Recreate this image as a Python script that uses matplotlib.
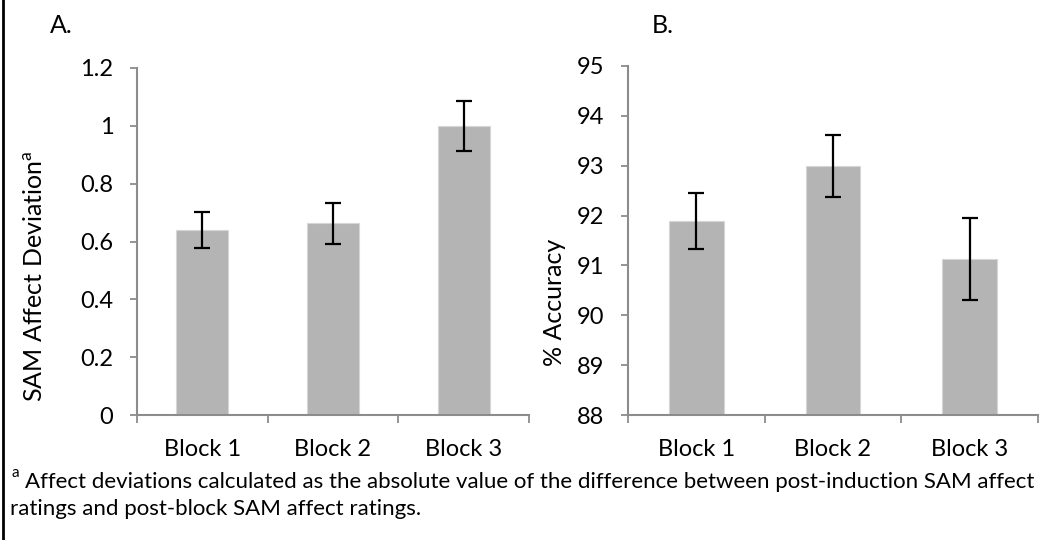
import numpy as np
import matplotlib
matplotlib.use("Agg")
import matplotlib.pyplot as plt
from matplotlib.lines import Line2D

plt.rcParams["font.family"] = ["Lato", "DejaVu Sans"]
plt.rcParams["mathtext.fontset"] = "custom"
plt.rcParams["mathtext.rm"] = "Lato"

# Block-level summaries
blocks = ["Block 1", "Block 2", "Block 3"]
affect_dev = [0.64, 0.663, 1.0]
affect_err = [0.062, 0.071, 0.087]
accuracy = [91.89, 93.0, 91.13]
accuracy_err = [0.56, 0.62, 0.82]

affect_ticks = [0, 0.2, 0.4, 0.6, 0.8, 1.0, 1.2]
affect_ticklabels = ["0", "0.2", "0.4", "0.6", "0.8", "1", "1.2"]
acc_ticks = [88, 89, 90, 91, 92, 93, 94, 95]

BAR_COLOR = "#b4b4b4"
AXIS_COLOR = "#8c8c8c"
W, H = 1050, 540
TICK_FS = 17


def px_axes(fig, left, top, right, bottom):
    return fig.add_axes([left / W, 1 - bottom / H, (right - left) / W, (bottom - top) / H])


def style_axes(ax, ticks, ticklabels, ylim):
    x = np.arange(len(blocks))
    ax.set_xlim(-0.5, len(blocks) - 0.5)
    ax.set_ylim(*ylim)
    ax.set_yticks(ticks)
    ax.set_yticklabels(ticklabels)
    ax.set_xticks(x)
    ax.set_xticklabels(blocks)
    ax.set_xticks(np.arange(len(blocks) + 1) - 0.5, minor=True)
    ax.tick_params(axis="x", which="major", length=0, pad=17, labelsize=TICK_FS)
    ax.tick_params(axis="x", which="minor", length=6, width=1.3, color=AXIS_COLOR, direction="out")
    ax.tick_params(axis="y", length=5, width=1.3, color=AXIS_COLOR, labelsize=TICK_FS, pad=12)
    for side in ("top", "right"):
        ax.spines[side].set_visible(False)
    for side in ("left", "bottom"):
        ax.spines[side].set_color(AXIS_COLOR)
        ax.spines[side].set_linewidth(1.5)


def draw_bars(ax, vals, errs, base):
    x = np.arange(len(vals))
    ax.bar(x, np.array(vals) - base, bottom=base, width=0.4, color=BAR_COLOR,
           edgecolor="#d6d6d6", linewidth=0.8, zorder=2)
    ax.errorbar(x, vals, yerr=errs, fmt="none", ecolor="black", elinewidth=1.6,
                capsize=6, capthick=1.6, zorder=3)


def place_ylabel(ax, text, x_px, y_px, size):
    # x_px is the right edge of the rotated label, y_px its centre (pixels from top)
    ax.set_ylabel(text, fontsize=size)
    inv = ax.transAxes.inverted()
    ax_x, ax_y = inv.transform((x_px, H - y_px))
    ax.yaxis.set_label_coords(ax_x, ax_y)


fig = plt.figure(figsize=(10.5, 5.4), dpi=100)

ax_a = px_axes(fig, 137, 68, 529, 415)
draw_bars(ax_a, affect_dev, affect_err, 0)
style_axes(ax_a, affect_ticks, affect_ticklabels, (0, 1.2))
place_ylabel(ax_a, r"SAM Affect Deviation$^{\mathrm{a}}$", 46, 276, 18)

ax_b = px_axes(fig, 628, 66, 1038, 415)
draw_bars(ax_b, accuracy, accuracy_err, 88)
style_axes(ax_b, acc_ticks, [str(t) for t in acc_ticks], (88, 95))
place_ylabel(ax_b, "% Accuracy", 566, 302, 18)

fig.text(50 / W, 1 - 33 / H, "A.", fontsize=18, va="baseline", ha="left")
fig.text(652 / W, 1 - 33 / H, "B.", fontsize=18, va="baseline", ha="left")

fig.text(11 / W, 1 - 477 / H, "a", fontsize=11, va="baseline", ha="left")
fig.text(25 / W, 1 - 488 / H,
         "Affect deviations calculated as the absolute value of the difference "
         "between post-induction SAM affect",
         fontsize=16, va="baseline", ha="left")
fig.text(10 / W, 1 - 515 / H, "ratings and post-block SAM affect ratings.",
         fontsize=16, va="baseline", ha="left")

# frame edge on the left
fig.add_artist(Line2D([3 / W, 3 / W], [0, 1], color="black", linewidth=2,
                      transform=fig.transFigure))

fig.savefig("out.png", dpi=100)
